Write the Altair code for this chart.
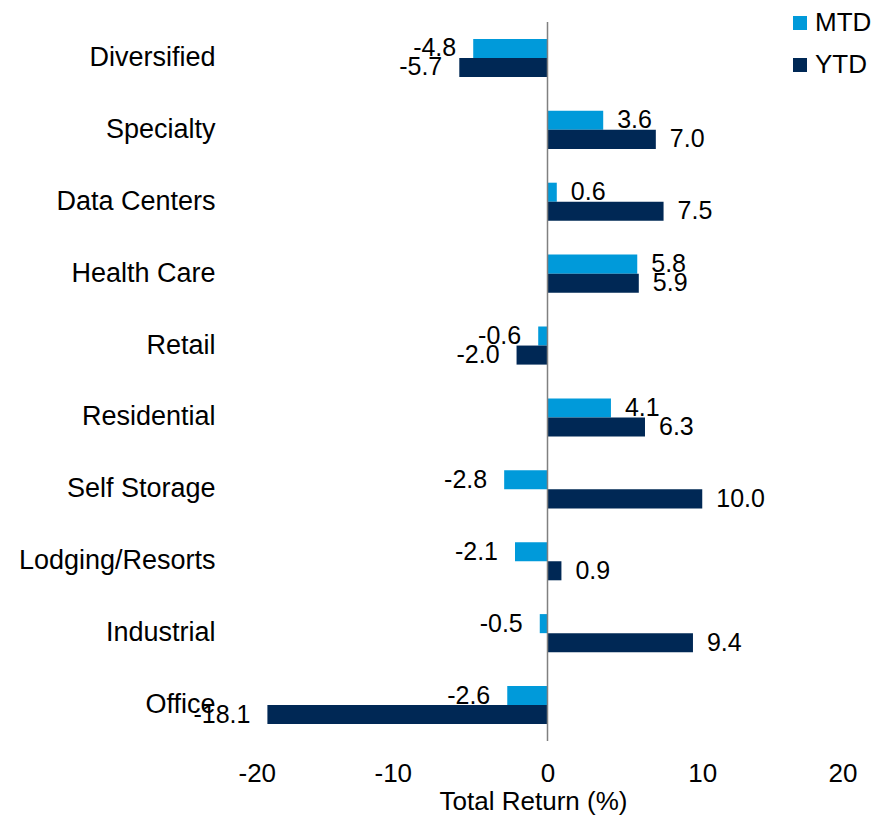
import altair as alt
import pandas as pd

categories = ["Diversified", "Specialty", "Data Centers", "Health Care", "Retail",
              "Residential", "Self Storage", "Lodging/Resorts", "Industrial", "Office"]
mtd = [-4.8, 3.6, 0.6, 5.8, -0.6, 4.1, -2.8, -2.1, -0.5, -2.6]
ytd = [-5.7, 7.0, 7.5, 5.9, -2.0, 6.3, 10.0, 0.9, 9.4, -18.1]
series = ["MTD", "YTD"]
colors = ["#009ADA", "#002855"]
x_ticks = [-20, -10, 0, 10, 20]

rows = []
for c, m, y in zip(categories, mtd, ytd):
    rows.append({"cat": c, "series": "MTD", "value": m})
    rows.append({"cat": c, "series": "YTD", "value": y})
df = pd.DataFrame(rows)

FONT = "Liberation Sans"

y_enc = alt.Y("cat:N", sort=categories, title=None,
              scale=alt.Scale(paddingInner=0.47, paddingOuter=0.235),
              axis=alt.Axis(domain=False, ticks=False, tickSize=0, labelFontSize=27,
                            labelFont=FONT, labelColor="black", labelPadding=23,
                            labelLimit=400))
yoff = alt.YOffset("series:N", sort=series, scale=alt.Scale(paddingInner=0, paddingOuter=0))
x_enc = alt.X("value:Q", title="Total Return (%)",
              scale=alt.Scale(domain=[-20, 20], nice=False),
              axis=alt.Axis(values=x_ticks, domain=False, ticks=False, tickSize=0, grid=False,
                            labelExpr="replace(datum.label, '\u2212', '-')",
                            labelFontSize=26, labelFont=FONT, labelColor="black",
                            labelPadding=19, titleFontSize=26, titleFont=FONT,
                            titleFontWeight="normal", titleColor="black", titlePadding=2,
                            titleX=295))

base = alt.Chart(df).transform_calculate(
    lbl="replace(format(datum.value, '.1f'), '\u2212', '-')"
)

bars = base.mark_bar().encode(
    y=y_enc, yOffset=yoff, x=x_enc,
    color=alt.Color("series:N", sort=series,
                    scale=alt.Scale(domain=series, range=colors),
                    legend=alt.Legend(title=None, orient="none", legendX=549, legendY=-12,
                                      symbolType="square", symbolSize=196,
                                      symbolStrokeWidth=0, labelFontSize=26, labelFont=FONT,
                                      labelColor="black", labelOffset=2, rowPadding=16,
                                      padding=0)),
)

pos_text = base.transform_filter("datum.value >= 0").mark_text(
    align="left", baseline="middle", dx=14, fontSize=25, font=FONT, color="black"
).encode(y=y_enc, yOffset=yoff, x=x_enc, text=alt.Text("lbl:N"))

neg_text = base.transform_filter("datum.value < 0").mark_text(
    align="right", baseline="middle", dx=-17, fontSize=25, font=FONT, color="black"
).encode(y=y_enc, yOffset=yoff, x=x_enc, text=alt.Text("lbl:N"))

zero = alt.Chart(pd.DataFrame({"z": [0]})).mark_rule(color="#808080", strokeWidth=1.5).encode(
    x=alt.X("z:Q")
)

chart = alt.layer(bars, zero, pos_text, neg_text).properties(
    width=619, height=719,
    autosize="none",
    padding={"left": 230, "top": 14, "right": 16, "bottom": 75},
).configure_view(stroke=None)

chart.save("out.html", embed_options={"renderer": "svg", "actions": False})
